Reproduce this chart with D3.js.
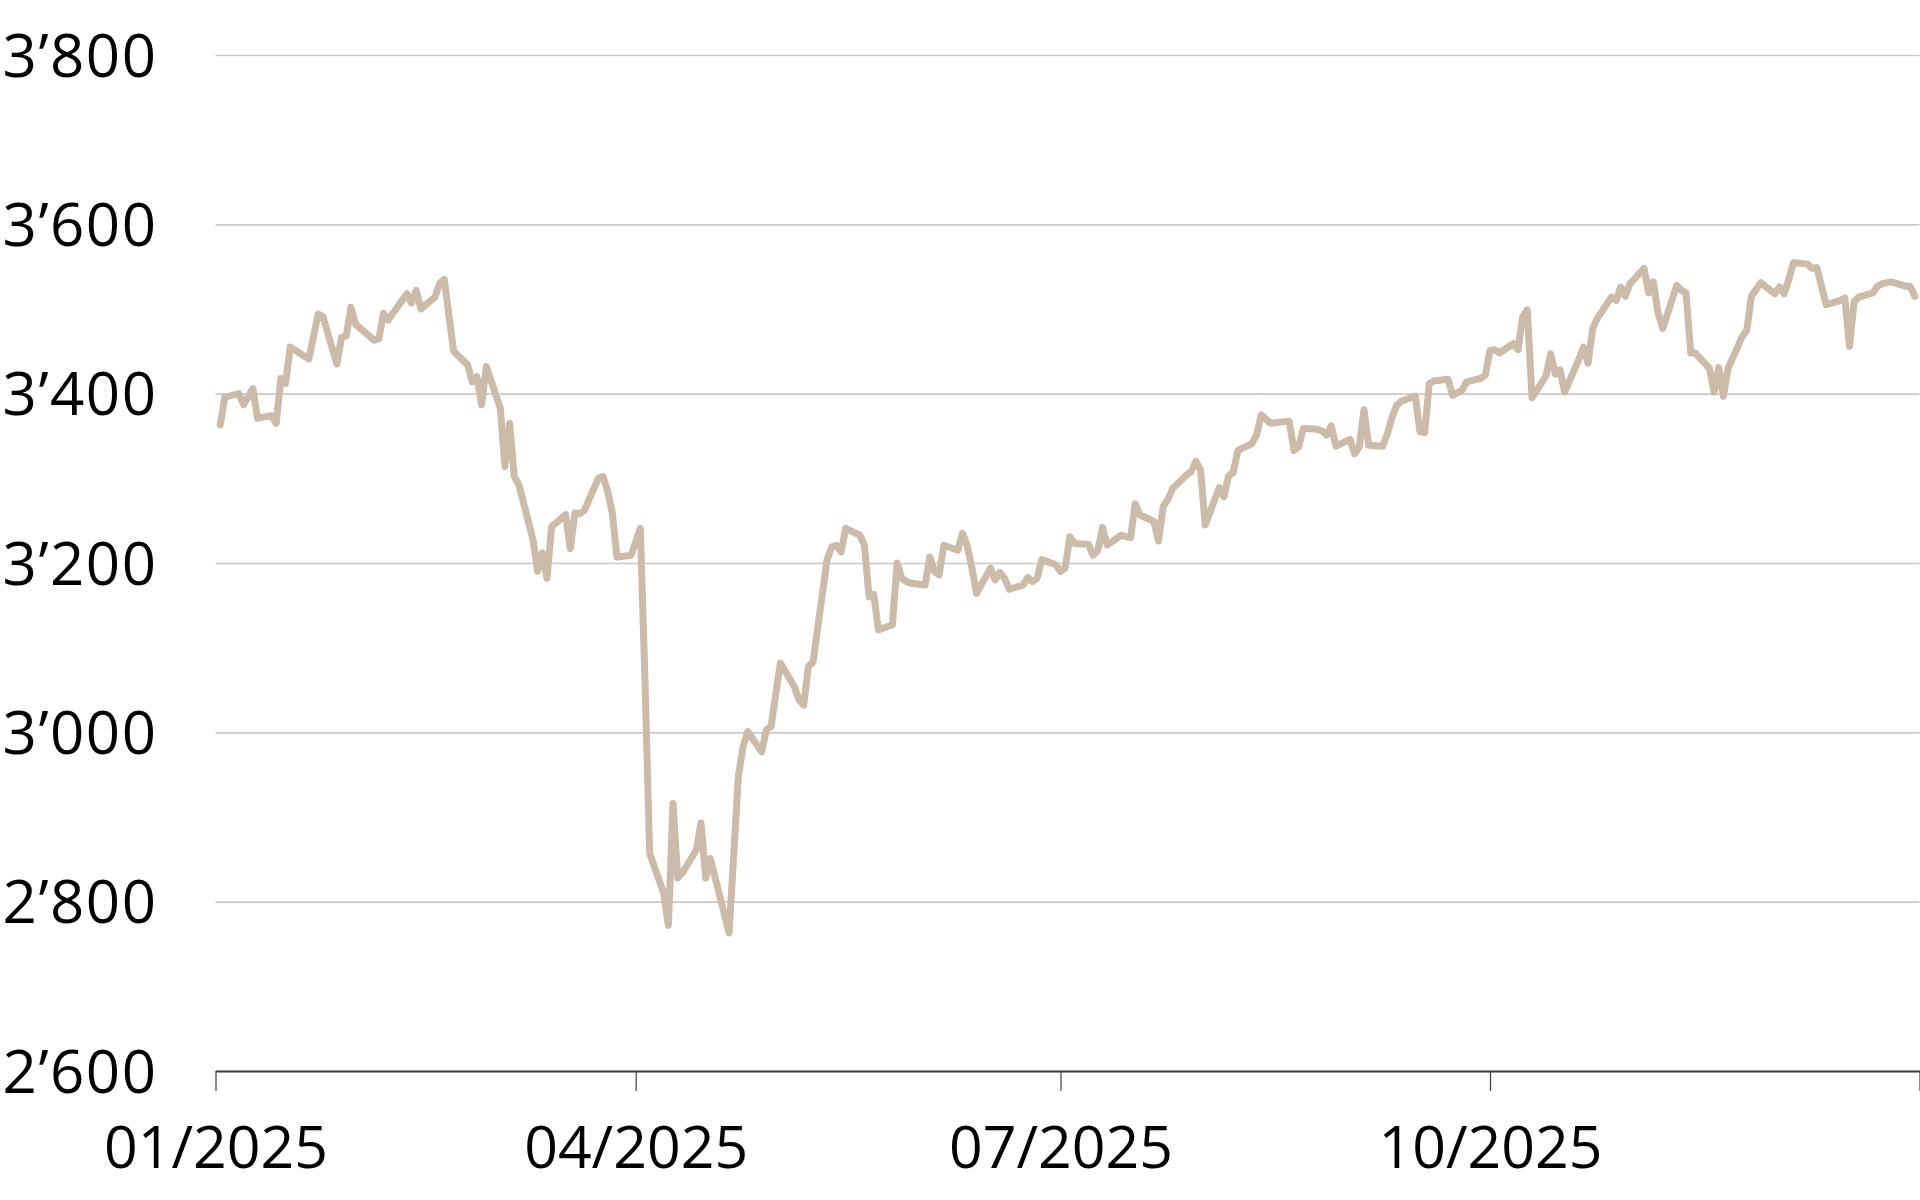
<!DOCTYPE html>
<html>
<head>
<meta charset="utf-8">
<script src="https://cdn.jsdelivr.net/npm/d3@7"></script>
<style>
  html, body { margin: 0; padding: 0; background: #fff; }
  svg { display: block; }
  text { font-family: "Open Sans", "Noto Sans", sans-serif; fill: #000; }
</style>
</head>
<body>
<svg id="chart" width="1920" height="1200"></svg>
<script>
// Index level, daily closes 2025
const dates = [
  "2025-01-02","2025-01-03","2025-01-06","2025-01-07","2025-01-09","2025-01-10","2025-01-13","2025-01-14",
  "2025-01-15","2025-01-16","2025-01-17","2025-01-21","2025-01-23","2025-01-24","2025-01-27","2025-01-28",
  "2025-01-29","2025-01-30","2025-01-31","2025-02-04","2025-02-05","2025-02-06","2025-02-07","2025-02-11",
  "2025-02-12","2025-02-13","2025-02-14","2025-02-17","2025-02-18","2025-02-19","2025-02-21","2025-02-24",
  "2025-02-25","2025-02-26","2025-02-27","2025-02-28","2025-03-03","2025-03-04","2025-03-05","2025-03-06",
  "2025-03-07","2025-03-10","2025-03-11","2025-03-12","2025-03-13","2025-03-14","2025-03-17","2025-03-18",
  "2025-03-19","2025-03-20","2025-03-21","2025-03-24","2025-03-25","2025-03-26","2025-03-27","2025-03-28",
  "2025-03-31","2025-04-01","2025-04-02","2025-04-03","2025-04-04","2025-04-07","2025-04-08","2025-04-09",
  "2025-04-10","2025-04-11","2025-04-14","2025-04-15","2025-04-16","2025-04-17","2025-04-21","2025-04-22",
  "2025-04-23","2025-04-24","2025-04-25","2025-04-28","2025-04-29","2025-04-30","2025-05-02","2025-05-05",
  "2025-05-06","2025-05-07","2025-05-08","2025-05-09","2025-05-12","2025-05-13","2025-05-14","2025-05-15",
  "2025-05-16","2025-05-19","2025-05-20","2025-05-21","2025-05-22","2025-05-23","2025-05-26","2025-05-27",
  "2025-05-28","2025-05-29","2025-05-30","2025-06-02","2025-06-03","2025-06-04","2025-06-05","2025-06-06",
  "2025-06-09","2025-06-10","2025-06-11","2025-06-12","2025-06-13","2025-06-16","2025-06-17","2025-06-18",
  "2025-06-19","2025-06-20","2025-06-23","2025-06-24","2025-06-25","2025-06-26","2025-06-27","2025-06-30",
  "2025-07-01","2025-07-02","2025-07-03","2025-07-04","2025-07-07","2025-07-08","2025-07-09","2025-07-10",
  "2025-07-11","2025-07-14","2025-07-15","2025-07-16","2025-07-17","2025-07-18","2025-07-21","2025-07-22",
  "2025-07-23","2025-07-24","2025-07-25","2025-07-28","2025-07-29","2025-07-30","2025-07-31","2025-08-01",
  "2025-08-04","2025-08-05","2025-08-06","2025-08-07","2025-08-08","2025-08-11","2025-08-12","2025-08-13",
  "2025-08-14","2025-08-15","2025-08-18","2025-08-19","2025-08-20","2025-08-21","2025-08-22","2025-08-25",
  "2025-08-26","2025-08-27","2025-08-28","2025-08-29","2025-09-01","2025-09-02","2025-09-03","2025-09-04",
  "2025-09-05","2025-09-08","2025-09-09","2025-09-10","2025-09-11","2025-09-12","2025-09-15","2025-09-16",
  "2025-09-17","2025-09-18","2025-09-19","2025-09-22","2025-09-23","2025-09-24","2025-09-25","2025-09-26",
  "2025-09-29","2025-09-30","2025-10-01","2025-10-02","2025-10-03","2025-10-06","2025-10-07","2025-10-08",
  "2025-10-09","2025-10-10","2025-10-13","2025-10-14","2025-10-15","2025-10-16","2025-10-17","2025-10-20",
  "2025-10-21","2025-10-22","2025-10-23","2025-10-24","2025-10-27","2025-10-28","2025-10-29","2025-10-30",
  "2025-10-31","2025-11-03","2025-11-04","2025-11-05","2025-11-06","2025-11-07","2025-11-10","2025-11-11",
  "2025-11-12","2025-11-13","2025-11-14","2025-11-17","2025-11-18","2025-11-19","2025-11-20","2025-11-21",
  "2025-11-24","2025-11-25","2025-11-26","2025-11-28","2025-12-01","2025-12-02","2025-12-03","2025-12-04",
  "2025-12-05","2025-12-08","2025-12-09","2025-12-10","2025-12-11","2025-12-12","2025-12-15","2025-12-16",
  "2025-12-17","2025-12-18","2025-12-19","2025-12-22","2025-12-23","2025-12-24","2025-12-26","2025-12-29",
  "2025-12-30","2025-12-31"
];

const values = [
  3363,3396,3400,3387,3406,3371,3374,3365,
  3418,3412,3455,3441,3494,3491,3435,3467,
  3468,3502,3482,3463,3465,3495,3487,3518,
  3507,3522,3500,3514,3530,3535,3450,3434,
  3414,3420,3387,3432,3383,3314,3365,3302,
  3292,3228,3190,3212,3182,3243,3257,3217,
  3259,3258,3262,3300,3302,3285,3259,3207,
  3209,3225,3241,3060,2857,2810,2772,2916,
  2828,2834,2861,2893,2828,2851,2763,2855,
  2948,2983,3001,2977,3003,3007,3082,3054,
  3038,3032,3078,3083,3204,3219,3221,3213,
  3241,3233,3221,3160,3163,3121,3127,3200,
  3182,3178,3176,3174,3207,3190,3186,3221,
  3215,3235,3221,3195,3164,3194,3180,3189,
  3182,3169,3174,3183,3178,3182,3204,3198,
  3190,3194,3231,3223,3222,3209,3215,3242,
  3221,3233,3231,3230,3270,3257,3249,3226,
  3267,3275,3288,3304,3308,3320,3310,3245,
  3289,3278,3303,3307,3333,3341,3351,3375,
  3370,3365,3367,3367,3333,3337,3359,3358,
  3356,3351,3362,3338,3346,3329,3337,3381,
  3339,3338,3352,3372,3386,3391,3397,3355,
  3354,3412,3415,3417,3398,3401,3404,3414,
  3418,3422,3451,3452,3448,3459,3452,3491,
  3499,3395,3421,3447,3423,3428,3402,3440,
  3455,3436,3477,3489,3514,3510,3526,3515,
  3530,3548,3519,3532,3495,3477,3528,3522,
  3519,3448,3448,3430,3402,3431,3397,3430,
  3467,3475,3515,3531,3518,3526,3518,3535,
  3555,3553,3548,3549,3527,3505,3510,3513,
  3456,3509,3514,3519,3527,3530,3532,3527,
  3527,3515
];

const yTicks = [2600, 2800, 3000, 3200, 3400, 3600, 3800];
const xTickDates = ["2025-01-01", "2025-04-01", "2025-07-01", "2025-10-01", "2026-01-01"];
const xTickLabels = ["01/2025", "04/2025", "07/2025", "10/2025", ""];

const parse = d3.utcParse("%Y-%m-%d");
const series = dates.map((d, i) => ({ date: parse(d), value: values[i] }));

const plotLeft = 215.5, plotRight = 1919.5, plotTop = 55, plotBottom = 1071;

const x = d3.scaleUtc()
    .domain([parse("2025-01-01"), parse("2026-01-01")])
    .range([plotLeft, plotRight]);

const y = d3.scaleLinear()
    .domain([2600, 3800])
    .range([plotBottom, plotTop]);

const fmt = d3.formatLocale({ decimal: ".", thousands: "\u2019", grouping: [3], currency: ["", ""] }).format(",");

const svg = d3.select("#chart");

// gridlines + y labels
const yAxis = svg.append("g")
    .attr("transform", `translate(${plotLeft},0)`)
    .call(d3.axisLeft(y)
        .tickValues(yTicks)
        .tickSize(-(plotRight - plotLeft))
        .tickPadding(58)
        .tickFormat(fmt));

yAxis.select(".domain").remove();
yAxis.selectAll(".tick line")
    .attr("stroke", "#c9c9c9")
    .attr("stroke-width", 1.6);
yAxis.selectAll(".tick text")
    .attr("font-size", 60)
    .attr("letter-spacing", 1.5)
    .attr("dy", "0.35em")
    .attr("fill", "#000");

// index line
const line = d3.line()
    .x(d => x(d.date))
    .y(d => y(d.value));

svg.append("path")
    .datum(series)
    .attr("fill", "none")
    .attr("stroke", "#ccbba8")
    .attr("stroke-width", 7)
    .attr("stroke-linejoin", "round")
    .attr("stroke-linecap", "round")
    .attr("d", line);

// x axis
const xAxis = svg.append("g")
    .attr("transform", `translate(0,${plotBottom})`)
    .call(d3.axisBottom(x)
        .tickValues(xTickDates.map(parse))
        .tickSizeInner(20)
        .tickSizeOuter(0)
        .tickPadding(35)
        .tickFormat((d, i) => xTickLabels[i]));

xAxis.select(".domain")
    .attr("stroke", "#3c3c3c")
    .attr("stroke-width", 2);
xAxis.selectAll(".tick line")
    .attr("stroke", "#3c3c3c")
    .attr("stroke-width", 1.2);
xAxis.selectAll(".tick text")
    .attr("font-size", 59)
    .attr("fill", "#000");
</script>
</body>
</html>
